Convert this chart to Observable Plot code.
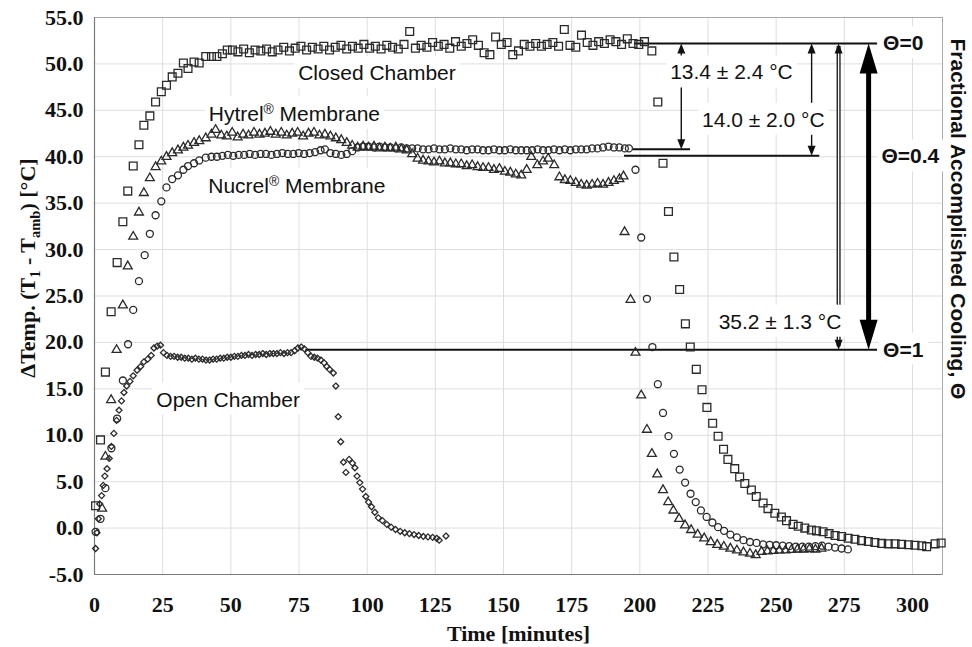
<!DOCTYPE html>
<html><head><meta charset="utf-8">
<script src="https://cdn.jsdelivr.net/npm/d3@7"></script>
<script src="https://cdn.jsdelivr.net/npm/@observablehq/plot@0.6"></script>
<style>html,body{margin:0;padding:0;background:#fff}</style>
</head><body><div id="chart"></div>
<script>
// ---- data: [time (min), ΔTemp (°C)] ----
const closedChamber = [[0.4,2.4],[2.2,9.5],[4.0,16.8],[6.1,23.3],[8.3,28.6],[10.4,33.0],[12.2,36.3],[14.2,39.0],[16.3,41.3],[18.1,43.4],[20.3,44.4],[22.4,45.9],[24.5,47.0],[26.4,47.7],[28.5,48.6],[30.6,49.0],[32.6,50.1],[34.3,49.5],[36.5,50.2],[38.4,50.1],[40.8,50.8],[42.9,50.8],[44.9,50.8],[46.9,51.1],[48.7,51.5],[50.6,51.5],
[52.6,51.3],[54.7,51.6],[56.8,51.2],[58.9,51.5],[61.0,51.4],[63.1,51.6],[65.2,51.3],[67.3,51.5],[69.4,51.8],[71.5,51.4],[73.6,51.7],[75.7,51.9],[77.8,51.5],[79.9,51.8],[82.0,51.6],[84.1,51.9],[86.2,51.5],[88.3,51.8],[90.4,52.0],[92.5,51.6],[94.6,51.9],[96.7,51.7],[98.8,52.1],[100.9,51.7],[103.0,51.9],[105.1,51.6],[107.2,52.0],[109.3,51.8],[111.4,51.6],[113.5,52.1],[115.6,53.5],[117.7,51.7],[119.8,52.0],[121.9,51.8],[124.0,52.3],[126.1,51.9],[128.2,52.1],[130.3,51.7],[132.4,52.4],[134.5,51.9],[136.6,52.2],[138.7,52.6],[140.8,52.0],[142.9,51.2],[145.0,51.0],[147.1,52.9],[149.2,52.1],[151.3,52.3],[153.4,51.0],[155.5,51.4],[157.6,52.1],[159.7,51.9],[161.8,52.2],[163.9,51.9],[166.0,52.1],[168.1,52.3],[170.2,51.9],[172.3,53.7],[174.4,52.0],[176.5,51.8],[178.6,53.1],[180.7,52.3],[182.8,52.0],[184.9,52.4],[187.0,52.2],[189.1,52.6],[191.2,52.4],[193.3,52.1],[195.4,52.7],[197.5,52.2],[199.6,52.1],[201.7,52.4],[204.4,51.4],
[206.6,45.9],[208.5,39.3],[210.5,34.1],[212.5,29.2],[214.6,25.7],[216.7,22.0],[218.5,19.5],[220.7,17.1],[222.8,14.9],[224.6,13.0],[226.7,11.3],[228.7,9.9],[230.7,8.5],[232.3,7.4],[234.8,6.4],[236.6,5.5],[238.5,4.8],[240.9,4.1],[242.7,3.4],[245.2,2.7],[247.0,2.1],[249.5,1.6],[251.9,1.2],[253.8,0.8],[256.2,0.4],[258.1,0.2],[260.5,0.0],[262.9,-0.2],[264.8,-0.3],[267.2,-0.4],[269.4,-0.6],[271.6,-0.8],[274.0,-0.9],[276.4,-1.1],[278.9,-1.2],[281.3,-1.35],[283.8,-1.45],[286.2,-1.55],[288.7,-1.65],[291.1,-1.7],[293.6,-1.7],[296.0,-1.75],[298.5,-1.8],[300.9,-1.85],[303.4,-1.9],[305.2,-2.0],[308.3,-1.7],[310.5,-1.6]];

const hytrelMembrane = [[2.8,2.1],[4.0,7.7],[6.1,13.8],[8.1,19.2],[10.4,24.0],[12.2,28.2],[14.2,31.4],[16.3,34.0],[18.1,36.1],[20.3,37.7],[22.4,38.9],[24.5,39.5],[26.4,40.0],[28.5,40.4],[30.6,40.7],[32.6,41.0],[34.3,41.2],[36.5,41.5],[38.4,41.7],[40.8,42.0],[42.9,42.4],[44.4,42.9],[46.5,42.3],[48.5,42.2],[50.5,42.6],[52.5,42.1],[54.5,42.4],[56.5,42.3],[58.5,42.6],[60.5,42.4],[62.5,42.5],[64.5,42.7],[66.5,42.4],[68.5,42.6],[70.5,42.3],[72.5,42.5],[74.5,42.6],[76.5,42.2],[78.5,42.5],[80.5,42.6],[82.5,42.3],[84.5,42.4],[86.5,42.2],[88.5,42.0],[90.5,41.8],[92.5,41.5],[94.5,41.2],[96.5,41.0],[98.5,41.1],[100.5,41.0],[102.5,41.1],[104.5,40.9],[106.5,41.0],[108.5,40.9],[110.5,41.0],[112.5,40.8],[114.5,40.7],[116.5,40.3],[118.5,39.8],[120.5,39.6],[122.5,39.5],[124.5,39.4],[126.5,39.5],[128.5,39.3],[130.5,39.3],[132.5,39.2],[134.5,39.2],[136.5,39.0],[138.5,39.1],[140.5,38.9],[142.5,38.8],[144.5,38.8],[146.5,38.6],[148.5,38.7],[150.5,38.4],[152.5,38.3],[154.5,38.1],[156.5,38.0],[158.5,38.6],[160.2,40.0],[162.4,39.1],[164.5,39.5],[166.4,39.8],[168.6,39.1],[170.5,37.8],[172.5,37.5],[174.5,37.4],[176.5,37.2],[178.5,37.0],[180.5,36.9],[182.5,37.0],[184.5,37.1],[186.5,37.0],[188.5,37.2],[190.5,37.4],[192.5,37.6],[194.0,37.9],
[194.4,31.9],[196.6,24.6],[198.4,18.9],[200.5,14.3],[202.6,10.6],[204.4,8.0],[206.4,5.8],[208.5,4.1],[210.4,2.8],[212.3,1.9],[214.4,1.0],[216.6,0.3],[218.8,-0.2],[221.2,-0.7],[223.6,-1.1],[226.0,-1.5],[228.4,-1.8],[230.8,-2.0],[233.2,-2.2],[235.6,-2.4],[238.0,-2.6],[240.4,-2.75],[242.5,-2.9],[244.6,-2.55],[246.8,-2.5],[249.0,-2.45],[251.2,-2.4],[253.4,-2.4],[255.6,-2.35],[257.8,-2.3],[260.0,-2.3],[262.2,-2.25],[264.4,-2.3],[266.6,-2.2]];

const nucrelMembrane = [[0.4,-0.4],[2.2,1.0],[4.0,4.3],[6.2,8.6],[8.3,11.8],[10.4,15.9],[12.3,19.8],[14.2,23.5],[16.3,26.6],[18.4,29.4],[20.3,31.7],[22.4,33.7],[24.5,35.2],[26.4,36.7],[28.5,37.6],[30.6,38.0],[32.6,38.6],[34.3,39.0],[36.5,39.3],[38.4,39.6],[40.8,39.9],[42.9,40.0],[44.9,40.0],[46.9,40.1],[48.9,40.2],[50.9,40.1],[52.9,40.2],[54.9,40.2],[56.9,40.3],[58.9,40.2],[60.9,40.3],[62.9,40.3],[64.9,40.2],[66.9,40.3],[68.9,40.4],[70.9,40.3],[72.9,40.3],[74.9,40.4],[76.9,40.3],[78.9,40.4],[80.9,40.5],[82.9,40.7],[84.5,40.8],[86.5,40.4],[88.5,40.3],[90.5,40.2],[92.5,40.3],[94.5,40.6],[96.5,41.0],[98.5,41.1],[100.5,41.1],[102.5,41.0],[104.5,41.1],[106.5,41.0],[108.5,41.0],[110.5,40.9],[112.5,41.0],[114.5,40.9],[116.5,40.9],[118.5,40.9],[120.5,40.8],[122.5,40.8],[124.5,40.9],[126.5,40.8],[128.5,40.8],[130.5,40.9],[132.5,40.8],[134.5,40.8],[136.5,40.7],[138.5,40.8],[140.5,40.8],[142.5,40.7],[144.5,40.7],[146.5,40.8],[148.5,40.7],[150.5,40.7],[152.5,40.8],[154.5,40.7],[156.5,40.7],[158.5,40.7],[160.5,40.7],[162.5,40.8],[164.5,40.7],[166.5,40.7],[168.5,40.8],[170.5,40.7],[172.5,40.8],[174.5,40.7],[176.5,40.8],[178.5,40.8],[180.5,40.8],[182.5,40.9],[184.5,40.9],[186.5,41.0],[188.5,41.1],[190.5,41.0],[192.5,41.0],[194.5,40.9],[196.0,40.9],
[198.4,38.6],[200.5,31.3],[202.6,24.7],[204.6,19.5],[206.6,15.5],[208.5,12.4],[210.5,9.9],[212.5,8.0],[214.6,6.3],[216.6,4.9],[218.6,3.7],[220.5,2.8],[222.4,1.9],[224.5,1.2],[226.6,0.6],[228.7,0.1],[230.9,-0.3],[233.2,-0.7],[235.6,-1.0],[238.0,-1.3],[240.4,-1.5],[242.8,-1.6],[245.2,-1.75],[247.6,-1.8],[250.0,-1.85],[252.4,-1.9],[254.8,-1.95],[257.2,-2.0],[259.6,-2.0],[262.0,-2.0],[264.4,-1.95],[266.8,-1.9],[269.2,-2.0],[271.6,-2.1],[274.0,-2.2],[276.3,-2.3]];

const openChamber = [[0.4,-2.2],[0.9,-0.5],[1.4,1.0],[1.9,2.6],[2.6,3.5],[3.2,4.6],[3.8,5.6],[4.6,6.4],[5.4,7.5],[6.2,8.8],[7.1,10.2],[8.1,11.6],[9.0,12.7],[9.9,13.7],[10.8,14.6],[11.8,15.3],[13.0,15.8],[14.2,16.4],[15.6,17.0],[16.9,17.4],[18.1,17.9],[19.5,18.2],[20.8,18.6],[21.8,19.4],[23.0,19.6],[24.2,19.7],[25.3,18.9],
[26.6,18.6],[27.9,18.5],[29.2,18.5],[30.5,18.4],[31.8,18.4],[33.1,18.3],[34.4,18.3],[35.7,18.2],[37.0,18.3],[38.3,18.2],[39.6,18.2],[40.9,18.1],[42.2,18.1],[43.5,18.2],[44.8,18.2],[46.1,18.3],[47.4,18.3],[48.7,18.4],[50.0,18.4],[51.3,18.5],[52.6,18.5],[53.9,18.6],[55.2,18.6],[56.5,18.7],[57.8,18.6],[59.1,18.7],[60.4,18.7],[61.7,18.8],[63.0,18.7],[64.3,18.8],[65.6,18.8],[66.9,18.8],[68.2,18.9],[69.5,18.8],[70.8,18.9],[72.1,18.9],[73.4,19.1],[74.6,19.4],[75.8,19.5],[77.0,19.3],[78.2,18.9],[79.4,18.5],[80.6,18.4],[81.8,18.3],[83.0,18.1],[84.2,17.8],[85.2,17.4],[86.2,17.1],[87.6,16.7],[88.5,15.3],[89.4,12.0],[90.3,9.3],[91.3,7.1],[92.2,6.0],[93.4,7.4],[94.6,7.0],[95.5,6.5],[96.3,5.6],[97.3,4.9],[98.3,4.2],[99.5,3.4],[100.5,2.8],[101.6,2.3],[102.8,1.7],[104.1,1.1],[105.6,0.8],[107.2,0.4],[108.8,0.1],[110.4,-0.15],[112.1,-0.35],[113.8,-0.5],[115.5,-0.6],[117.2,-0.7],[118.9,-0.8],[120.6,-0.9],[122.3,-0.95],[124.0,-1.0],[125.5,-1.1],[126.4,-1.3],[128.9,-0.86]];

const yTicks = d3.range(-5, 56, 5);
const xTicks = d3.range(0, 301, 25);
const xGridTicks = d3.range(25, 301, 25);

// reference levels (°C) and their extents (minutes)
const levels = [
  {value: 52.2, from: 198, to: 287.2},
  {value: 40.8, from: 197.5, to: 218.6},
  {value: 40.1, from: 194.4, to: 266},
  {value: 19.2, from: 77.5, to: 287.2}
];
const thetaLabels = [
  {text: "Θ=0", value: 52.2, at: 289.2},
  {text: "Θ=0.4", value: 40.0, at: 288.6},
  {text: "Θ=1", value: 19.2, at: 289.2}
];
const diffArrows = [
  {at: 215.2, top: 52.2, bottom: 40.8},
  {at: 263.0, top: 52.2, bottom: 40.1},
  {at: 272.9, top: 52.2, bottom: 19.2}
];
const bigArrow = [{at: 283.9, top: 52.2, bottom: 19.2}];
const diffLabels = [
  {text: "13.4 ± 2.4 °C", t: 233.6, v: 49.05},
  {text: "14.0 ± 2.0 °C", t: 245.3, v: 43.95},
  {text: "35.2 ± 1.3 °C", t: 251.4, v: 22.2}
];
const seriesLabels = [
  {text: "Closed Chamber", t: 103.6, v: 49.0},
  {text: "Hytrel^{®} Membrane", t: 73.3, v: 44.6},
  {text: "Nucrel^{®} Membrane", t: 74.2, v: 36.8},
  {text: "Open Chamber", t: 49.0, v: 13.8}
];
const xTitle = "Time [minutes]";
const yTitle = "ΔTemp. (T_{1} - T_{amb}) [°C]";
const y2Title = "Fractional Accomplished Cooling, Θ";

const serif = "'Liberation Serif','Times New Roman',serif";
const sans = "'Liberation Sans',Arial,sans-serif";
const ink = "#2a2a2a";
const head = (w, h) => ({draw(ctx) { ctx.moveTo(0, 0); ctx.lineTo(w / 2, h); ctx.lineTo(-w / 2, h); ctx.closePath(); }});
const px = d => d[0], py = d => d[1];

const plot = Plot.plot({
  width: 972, height: 647,
  marginLeft: 94, marginRight: 30, marginTop: 17, marginBottom: 73,
  x: {domain: [0, 311]},
  y: {domain: [-5, 55]},
  style: {fontFamily: sans, fontSize: "21px", color: "#111", background: "#fff"},
  marks: [
    Plot.gridY(yTicks, {stroke: "#dedede", strokeOpacity: 1}),
    Plot.gridX(xGridTicks, {stroke: "#dedede", strokeOpacity: 1}),
    Plot.frame({stroke: "#a8a8a8"}),
    Plot.ruleX([0], {stroke: "#7a7a7a", strokeWidth: 1.2}),
    Plot.ruleY([-5], {stroke: "#7a7a7a", strokeWidth: 1.2}),
    Plot.axisY({ticks: yTicks, tickSize: 0, tickPadding: 11, tickFormat: d => d.toFixed(1), fontFamily: serif, fontWeight: "bold", fontSize: 22, label: null}),
    Plot.axisX({ticks: xTicks, tickSize: 0, tickPadding: 22, tickFormat: d => String(d), fontFamily: serif, fontWeight: "bold", fontSize: 22, label: null}),
    Plot.ruleY(levels, {y: "value", x1: "from", x2: "to", stroke: "#111", strokeWidth: 2}),
    Plot.ruleX(diffArrows, {x: "at", y1: "top", y2: "bottom", stroke: "#111", strokeWidth: d => d.bottom < 30 ? 4 : 1.4, insetTop: 3, insetBottom: 3}),
    Plot.ruleX(diffArrows.filter(d => d.bottom < 30), {x: "at", y1: "top", y2: "bottom", stroke: "#fff", strokeWidth: 1.4, insetTop: 8, insetBottom: 8}),
    Plot.ruleX(bigArrow, {x: "at", y1: "top", y2: "bottom", stroke: "#000", strokeWidth: 5, insetTop: 20, insetBottom: 20}),
    Plot.dot(openChamber, {x: px, y: py, symbol: "diamond2", r: 2.7, stroke: ink, strokeWidth: 1.3, fill: "none", ariaDescription: "data"}),
    Plot.dot(nucrelMembrane, {x: px, y: py, symbol: "circle", r: 3.5, stroke: ink, strokeWidth: 1.3, fill: "none"}),
    Plot.dot(hytrelMembrane, {x: px, y: py, symbol: "triangle", r: 3.3, stroke: ink, strokeWidth: 1.3, fill: "none"}),
    Plot.dot(closedChamber, {x: px, y: py, symbol: "square", r: 4.4, stroke: ink, strokeWidth: 1.3, fill: "none"}),
    Plot.dot(diffArrows, {x: "at", y: "top", r: 1, symbol: head(8, 10), fill: "#111", stroke: "none"}),
    Plot.dot(diffArrows, {x: "at", y: "bottom", r: 1, symbol: head(8, 10), rotate: 180, fill: "#111", stroke: "none"}),
    Plot.dot(bigArrow, {x: "at", y: "top", r: 1, symbol: head(18, 30), fill: "#000", stroke: "none"}),
    Plot.dot(bigArrow, {x: "at", y: "bottom", r: 1, symbol: head(18, 30), rotate: 180, fill: "#000", stroke: "none"}),
    Plot.text(diffLabels, {x: "t", y: "v", text: "text", fontSize: 21, fontFamily: sans, fill: "#111", ariaDescription: "boxed"}),
    Plot.text(seriesLabels, {x: "t", y: "v", text: "text", fontSize: 21, fontFamily: sans, fill: "#111", ariaDescription: "boxed"}),
    Plot.text(thetaLabels, {x: "at", y: "value", text: "text", textAnchor: "start", fontSize: 21, fontWeight: "bold", fontFamily: sans, fill: "#111", ariaDescription: "boxed"}),
    Plot.text([xTitle], {text: d => d, frameAnchor: "bottom", dy: 59, textAnchor: "middle", lineAnchor: "middle", fontFamily: serif, fontWeight: "bold", fontSize: 22, fill: "#111"}),
    Plot.text([yTitle], {text: d => d, frameAnchor: "left", dx: -67, dy: -28, rotate: -90, textAnchor: "middle", lineAnchor: "middle", fontFamily: serif, fontWeight: "bold", fontSize: 22, fill: "#111"}),
    Plot.text([y2Title], {text: d => d, frameAnchor: "top-right", dx: 15, dy: 21, rotate: 90, textAnchor: "start", lineAnchor: "middle", fontFamily: sans, fontWeight: "bold", fontSize: 21, fill: "#111"})
  ]
});

document.getElementById("chart").append(plot);

// rich text: _{sub} and ^{sup}
function richText(el) {
  const src = el.textContent;
  if (!/[_^]\{/.test(src)) return;
  el.textContent = "";
  const parts = src.split(/(_\{[^}]*\}|\^\{[^}]*\})/).filter(s => s.length);
  let cur = 0;
  for (const p of parts) {
    let txt = p, off = 0, small = false;
    if (p.startsWith("_{")) { txt = p.slice(2, -1); off = 5; small = true; }
    else if (p.startsWith("^{")) { txt = p.slice(2, -1); off = -7; small = true; }
    const ts = document.createElementNS("http://www.w3.org/2000/svg", "tspan");
    if (off !== cur) ts.setAttribute("dy", String(off - cur));
    cur = off;
    if (small) ts.setAttribute("font-size", "0.66em");
    ts.textContent = txt;
    el.appendChild(ts);
  }
}
plot.querySelectorAll("text").forEach(richText);

// white boxes behind annotation labels
const sb = plot.getBoundingClientRect();
const boxG = document.createElementNS("http://www.w3.org/2000/svg", "g");
plot.querySelectorAll('g[aria-description="boxed"] text').forEach(t => {
  const r = t.getBoundingClientRect();
  let x = r.left - sb.left - 4, y = r.top - sb.top - 5, w = r.width + 8, h = r.height + 9;
  if (t.textContent === "Θ=0.4") w = Math.max(w, 947 - x);
  const rect = document.createElementNS("http://www.w3.org/2000/svg", "rect");
  rect.setAttribute("x", x); rect.setAttribute("y", y);
  rect.setAttribute("width", w); rect.setAttribute("height", h);
  rect.setAttribute("fill", "#fff");
  boxG.appendChild(rect);
});
const firstData = plot.querySelector('g[aria-description="data"]');
plot.insertBefore(boxG, firstData);
</script>
</body></html>
